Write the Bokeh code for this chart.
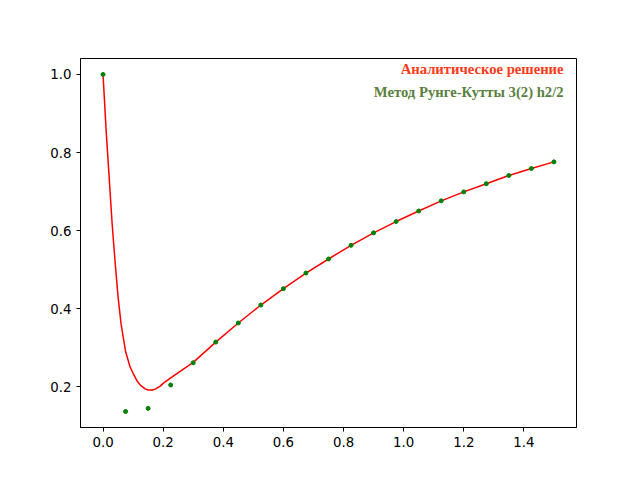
from bokeh.plotting import figure
from bokeh.models import Range1d, FixedTicker, PrintfTickFormatter, Label
from bokeh.embed import file_html
from bokeh.resources import INLINE

# analytic solution
xa = [0.0, 0.01, 0.02, 0.03, 0.04, 0.05, 0.06, 0.075, 0.09, 0.1, 0.115, 0.125, 0.14, 0.15, 0.165, 0.175, 0.19, 0.2, 0.225,
      0.3, 0.375, 0.45, 0.525, 0.6, 0.675, 0.75, 0.825, 0.9, 0.975, 1.05, 1.125, 1.2, 1.275, 1.35, 1.425, 1.5]
ya = [1.0, 0.86, 0.74, 0.62, 0.52, 0.43, 0.36, 0.29, 0.25, 0.234, 0.212, 0.203, 0.194, 0.191, 0.191, 0.194, 0.201, 0.208, 0.222,
      0.262, 0.314, 0.363, 0.409, 0.451, 0.491, 0.527, 0.562, 0.594, 0.623, 0.650, 0.676, 0.699, 0.720, 0.741, 0.759, 0.776]
# Runge-Kutta 3(2), h/2
xr = [i * 0.075 for i in range(21)]
yr = [1.0, 0.136, 0.144, 0.204, 0.261, 0.314, 0.363, 0.409, 0.451, 0.491, 0.527, 0.562, 0.594, 0.623,
      0.650, 0.676, 0.699, 0.720, 0.741, 0.759, 0.776]

p = figure(width=640, height=480, output_backend="svg", toolbar_location=None,
           x_range=Range1d(-0.075, 1.575), y_range=Range1d(0.095, 1.041),
           min_border_left=80, min_border_right=64, min_border_top=58, min_border_bottom=53)
p.xgrid.visible = False
p.ygrid.visible = False
p.outline_line_color = "black"
for ax in (p.xaxis[0], p.yaxis[0]):
    ax.major_label_text_font = "DejaVu Sans"
    ax.major_label_text_font_size = "10pt"
    ax.major_label_text_color = "black"
    ax.minor_tick_line_color = None
    ax.major_tick_out = 4
    ax.major_tick_in = 0
    ax.axis_line_color = "black"
    ax.formatter = PrintfTickFormatter(format="%.1f")
p.xaxis.ticker = FixedTicker(ticks=[0.0, 0.2, 0.4, 0.6, 0.8, 1.0, 1.2, 1.4])
p.yaxis.ticker = FixedTicker(ticks=[0.2, 0.4, 0.6, 0.8, 1.0])

p.line(xa, ya, line_color="red", line_width=1.5)
p.scatter(xr, yr, size=4, color="green")

p.add_layout(Label(x=1.532, y=1.015, text="Аналитическое решение",
                   text_align="right", text_baseline="middle", text_font="Liberation Serif",
                   text_font_style="bold", text_font_size="11pt", text_color="#ff3a1a"))
p.add_layout(Label(x=1.532, y=0.956, text="Метод Рунге-Кутты 3(2) h2/2",
                   text_align="right", text_baseline="middle", text_font="Liberation Serif",
                   text_font_style="bold", text_font_size="11pt", text_color="#5a8040"))

open("out.html", "w").write(file_html(p, INLINE))
